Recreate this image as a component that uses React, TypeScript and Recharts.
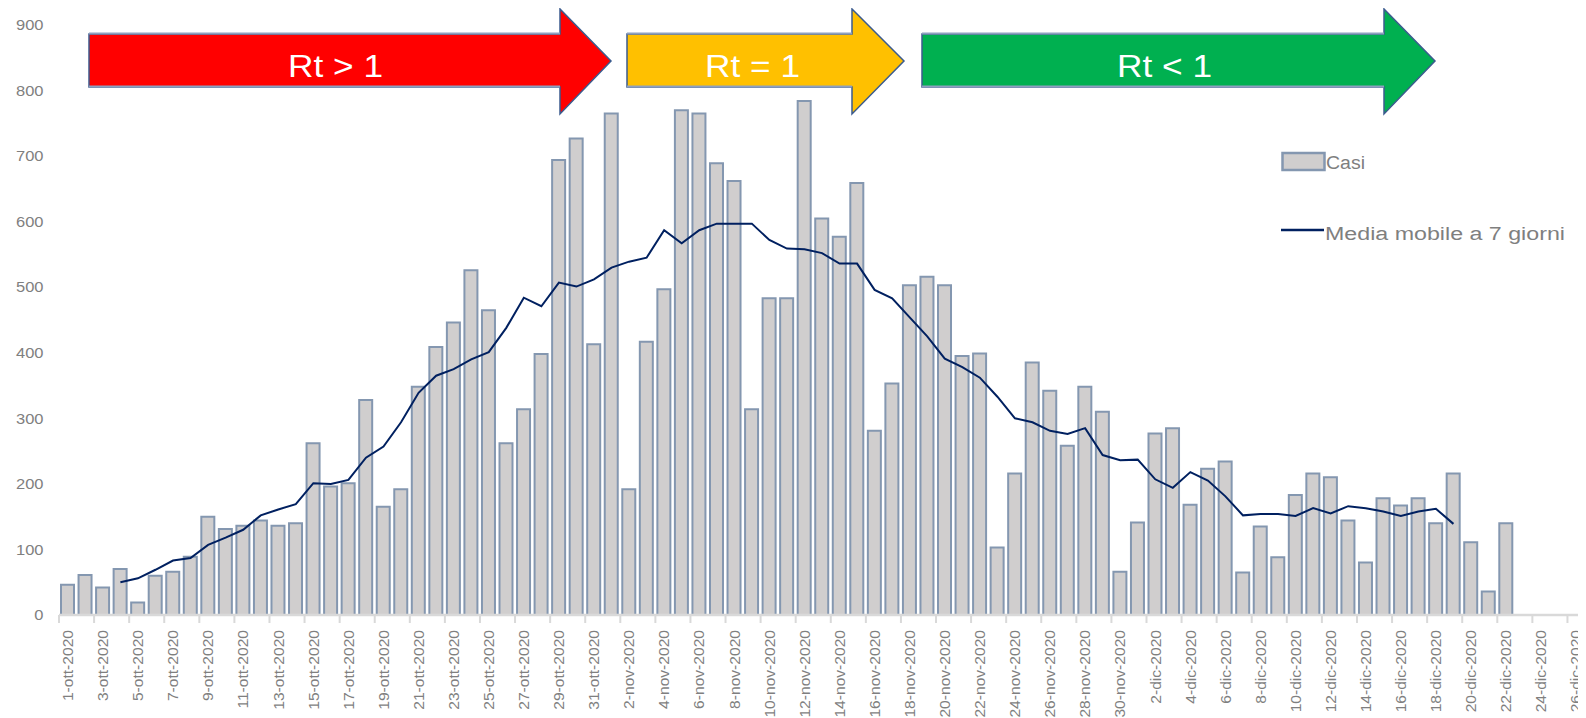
import React from "react";
import { ComposedChart, Bar, Line, XAxis, YAxis, Legend } from "recharts";

const dates = [
  "1-ott-2020","2-ott-2020","3-ott-2020","4-ott-2020","5-ott-2020","6-ott-2020","7-ott-2020","8-ott-2020","9-ott-2020","10-ott-2020",
  "11-ott-2020","12-ott-2020","13-ott-2020","14-ott-2020","15-ott-2020","16-ott-2020","17-ott-2020","18-ott-2020","19-ott-2020","20-ott-2020",
  "21-ott-2020","22-ott-2020","23-ott-2020","24-ott-2020","25-ott-2020","26-ott-2020","27-ott-2020","28-ott-2020","29-ott-2020","30-ott-2020","31-ott-2020",
  "1-nov-2020","2-nov-2020","3-nov-2020","4-nov-2020","5-nov-2020","6-nov-2020","7-nov-2020","8-nov-2020","9-nov-2020","10-nov-2020",
  "11-nov-2020","12-nov-2020","13-nov-2020","14-nov-2020","15-nov-2020","16-nov-2020","17-nov-2020","18-nov-2020","19-nov-2020","20-nov-2020",
  "21-nov-2020","22-nov-2020","23-nov-2020","24-nov-2020","25-nov-2020","26-nov-2020","27-nov-2020","28-nov-2020","29-nov-2020","30-nov-2020",
  "1-dic-2020","2-dic-2020","3-dic-2020","4-dic-2020","5-dic-2020","6-dic-2020","7-dic-2020","8-dic-2020","9-dic-2020","10-dic-2020",
  "11-dic-2020","12-dic-2020","13-dic-2020","14-dic-2020","15-dic-2020","16-dic-2020","17-dic-2020","18-dic-2020","19-dic-2020","20-dic-2020",
  "21-dic-2020","22-dic-2020","23-dic-2020","24-dic-2020","25-dic-2020","26-dic-2020",
];

const casi: (number | null)[] = [
  46, 61, 42, 70, 19, 60, 66, 89, 150, 131,
  136, 144, 136, 140, 262, 196, 201, 328, 165, 192, 348, 409,
  446, 526, 465, 262, 314, 398, 694, 727, 413, 765, 192, 417, 497, 770, 765, 689, 662, 314, 483, 483, 784, 605,
  577, 659, 281, 353, 503, 516, 503, 395, 399, 103, 216, 385, 342, 258, 348, 310, 66, 141, 277, 285, 168,
  223, 234, 65, 135, 88, 183, 216, 210, 144, 80, 178, 167, 178, 140, 216, 111, 36, 140,
  null, null, null, null,
];

const mediaMobile: (number | null)[] = [
  null, null, null,
  50, 56, 69, 83, 87, 107, 118, 130, 152, 161, 169, 201, 200, 206, 240, 257, 294, 339, 365,
  375, 390, 401, 438, 484, 471, 507, 501, 512, 530, 539, 545, 587, 567, 587, 597, 597, 597, 572, 559, 558, 552,
  536, 536, 496, 483, 454, 425, 391, 378, 362, 333, 300, 294, 281, 276, 285, 244, 236, 237, 207, 194, 218,
  205, 181, 152, 154, 154, 151, 163, 155, 166, 163, 158, 151, 158, 162, 139,
  null, null, null, null, null, null, null,
];

const yTicks = [0, 100, 200, 300, 400, 500, 600, 700, 800, 900];

const serieCasi = "Casi";
const serieMedia = "Media mobile a 7 giorni";

const arrows = [
  { label: "Rt > 1", fill: "#FF0000", x0: 89, xh: 560, tip: 611, tx: 288 },
  { label: "Rt = 1", fill: "#FFC000", x0: 627, xh: 852, tip: 904, tx: 705 },
  { label: "Rt < 1", fill: "#00B050", x0: 922, xh: 1384, tip: 1435, tx: 1117 },
];

const data = dates.map((d, i) => ({ date: d, casi: casi[i], media: mediaMobile[i] }));

const FONT = "'Liberation Sans', Arial, sans-serif";
const LABEL = "#7F7F7F";

const XTick = (props: any) => {
  const { x, y, payload } = props;
  const half = payload && typeof payload.offset === "number" ? payload.offset : 8.77;
  return (
    <g>
      <line x1={x - half} x2={x - half} y1={y} y2={y + 8} stroke="#D9D9D9" strokeWidth={2} />
      <text
        transform={`translate(${x},${y + 15}) rotate(-90) scale(1.04,1)`}
        textAnchor="end"
        dy="0.35em"
        fontSize={15}
        fill={LABEL}
        fontFamily={FONT}
      >
        {payload.value}
      </text>
    </g>
  );
};

const YTick = (props: any) => {
  const { x, y, payload } = props;
  return (
    <text
      transform={`translate(${x - 15.5},${y}) scale(1.1,1)`}
      textAnchor="end"
      dy="0.35em"
      fontSize={15}
      fill={LABEL}
      fontFamily={FONT}
    >
      {payload.value}
    </text>
  );
};

const LegendContent = () => (
  <svg width={300} height={100} style={{ display: "block" }}>
    <rect x={1.5} y={3} width={42} height={17} fill="#D0CECE" stroke="#8497B0" strokeWidth={2.5} />
    <text x={45} y={19} fontSize={18} fill={LABEL} fontFamily={FONT} textLength={39} lengthAdjust="spacingAndGlyphs">
      {serieCasi}
    </text>
    <line x1={0} x2={43} y1={80} y2={80} stroke="#002060" strokeWidth={2.5} />
    <text x={44} y={90} fontSize={18} fill={LABEL} fontFamily={FONT} textLength={240} lengthAdjust="spacingAndGlyphs">
      {serieMedia}
    </text>
  </svg>
);

export default function App() {
  const W = 1578;
  const H = 710;
  return (
    <div style={{ position: "relative", width: W, height: H }}>
      <ComposedChart width={W} height={H} data={data} margin={{ top: 17, right: 1, bottom: 0, left: 0 }}>
        <XAxis
          dataKey="date"
          interval={1}
          height={103}
          tickSize={0}
          tickMargin={0}
          tickLine={false}
          axisLine={{ stroke: "#D9D9D9", strokeWidth: 2.5 }}
          tick={<XTick />}
        />
        <YAxis
          width={51}
          domain={[0, 900]}
          ticks={yTicks}
          tickSize={0}
          tickMargin={0}
          axisLine={false}
          tickLine={false}
          tick={<YTick />}
        />
        <Bar
          dataKey="casi"
          name={serieCasi}
          barSize={13}
          fill="#D0CECE"
          stroke="#8497B0"
          strokeWidth={2}
          isAnimationActive={false}
        />
        <Line
          dataKey="media"
          name={serieMedia}
          type="linear"
          stroke="#002060"
          strokeWidth={2}
          dot={false}
          activeDot={false}
          connectNulls={false}
          isAnimationActive={false}
        />
        <Legend
          layout="horizontal"
          verticalAlign="middle"
          align="center"
          content={<LegendContent />}
          wrapperStyle={{ top: 142, left: 1273, width: 300, height: 100 }}
        />
      </ComposedChart>
      <svg
        width={W}
        height={H}
        style={{ position: "absolute", left: 0, top: 0, pointerEvents: "none" }}
      >
        <g transform="translate(-8,-8)">
          {arrows.map((a) => (
            <g key={a.label}>
              <polygon
                points={`${a.x0},34 ${a.xh},34 ${a.xh},9 ${a.tip},61 ${a.xh},114 ${a.xh},87 ${a.x0},87`}
                fill={a.fill}
                stroke="#3B5B8E"
                strokeWidth={1.5}
              />
              <line x1={a.x0} x2={a.xh} y1={86.5} y2={86.5} stroke="#8EA0BF" strokeWidth={2} />
              <line x1={a.x0} x2={a.xh} y1={33.5} y2={33.5} stroke="#8EA0BF" strokeWidth={2} />
              <text
                x={a.tx}
                y={77}
                fontSize={32}
                fill="#FFFFFF"
                fontFamily={FONT}
                textLength={95}
                lengthAdjust="spacingAndGlyphs"
              >
                {a.label}
              </text>
            </g>
          ))}
        </g>
      </svg>
    </div>
  );
}
